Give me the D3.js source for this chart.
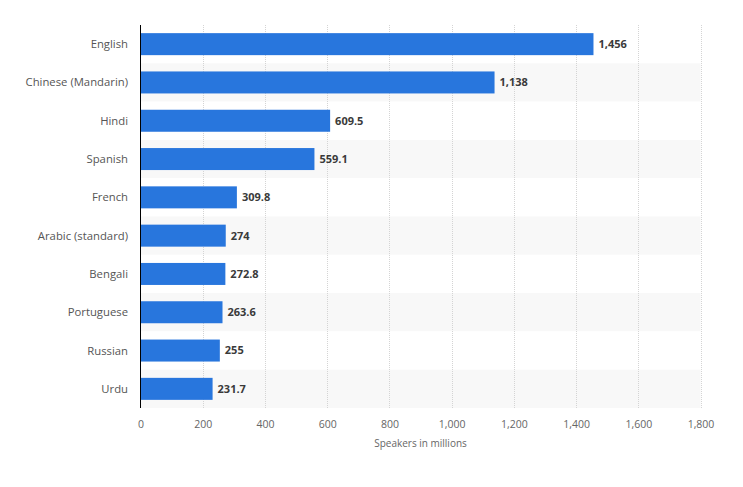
<!DOCTYPE html>
<html>
<head>
<meta charset="utf-8">
<script src="https://cdnjs.cloudflare.com/ajax/libs/d3/7.8.5/d3.min.js"></script>
<title>Speakers</title>
<style>
  body{ margin: 0; background-color: #fff; }
  text{ font-family: "Open Sans", "DejaVu Sans", sans-serif; }
</style>
</head>
<body>
<script>
var languages = ["English", "Chinese (Mandarin)", "Hindi", "Spanish", "French",
                 "Arabic (standard)", "Bengali", "Portuguese", "Russian", "Urdu"],
    speakers = [1456, 1138, 609.5, 559.1, 309.8, 274, 272.8, 263.6, 255, 231.7],
    ticks = [0, 200, 400, 600, 800, 1000, 1200, 1400, 1600, 1800];

var w = 743, h = 487,
    x0 = 140.5, x1 = 700.5, y0 = 25, y1 = 408;   // plot box

var svg = d3.select("body").append("svg")
    .attr("width", w)
    .attr("height", h);

var x = d3.scaleLinear().domain([0, 1800]).range([x0, x1]);
var y = d3.scaleBand().domain(languages).range([y0, y1]);
var fmt = d3.format(",");

// alternating row bands
svg.selectAll("rect.band")
  .data(languages)
  .enter().append("rect")
    .attr("class", "band")
    .attr("x", x0)
    .attr("y", function(d){ return y(d); })
    .attr("width", x1 - x0)
    .attr("height", y.bandwidth())
    .attr("fill", function(d, i){ return i % 2 ? "#f8f8f8" : "#fff"; });

// grid
svg.selectAll("line.grid")
  .data(ticks.slice(1))
  .enter().append("line")
    .attr("class", "grid")
    .attr("x1", function(d){ return Math.round(x(d)) + 0.5; })
    .attr("x2", function(d){ return Math.round(x(d)) + 0.5; })
    .attr("y1", y0)
    .attr("y2", y1)
    .attr("stroke", "#d4d4d4")
    .attr("stroke-dasharray", "1,1");

// bars
var bh = 22;
svg.selectAll("rect.bar")
  .data(speakers)
  .enter().append("rect")
    .attr("class", "bar")
    .attr("x", x0)
    .attr("y", function(d, i){ return y(languages[i]) + (y.bandwidth() - bh)/2; })
    .attr("width", function(d){ return x(d) - x0; })
    .attr("height", bh)
    .attr("fill", "#2876dd");

// value labels
svg.selectAll("text.val")
  .data(speakers)
  .enter().append("text")
    .attr("class", "val")
    .attr("x", function(d){ return x(d) + 5; })
    .attr("y", function(d, i){ return y(languages[i]) + y.bandwidth()/2; })
    .attr("dy", "0.35em")
    .attr("font-size", 11)
    .attr("font-weight", "bold")
    .attr("fill", "#3a3a3a")
    .text(function(d){ return fmt(d); });

// category labels
svg.selectAll("text.cat")
  .data(languages)
  .enter().append("text")
    .attr("class", "cat")
    .attr("x", 128)
    .attr("y", function(d){ return y(d) + y.bandwidth()/2; })
    .attr("dy", "0.35em")
    .attr("text-anchor", "end")
    .attr("font-size", 11.3)
    .attr("fill", "#555")
    .text(function(d){ return d; });

// x axis
var xAxis = d3.axisBottom(x).tickValues(ticks).tickFormat(fmt).tickSize(0).tickPadding(13);
var gx = svg.append("g").attr("transform", "translate(0," + y1 + ")").call(xAxis);
gx.select(".domain").remove();
gx.selectAll("text")
    .attr("font-size", 10.5)
    .attr("fill", "#666")
    .attr("font-family", "'Open Sans', 'DejaVu Sans', sans-serif");

// y axis line
svg.append("line")
    .attr("x1", x0).attr("x2", x0)
    .attr("y1", y0).attr("y2", y1)
    .attr("stroke", "#000");

svg.append("text")
    .attr("x", (x0 + x1)/2)
    .attr("y", 447)
    .attr("text-anchor", "middle")
    .attr("font-size", 10)
    .attr("fill", "#666")
    .text("Speakers in millions");
</script>
</body>
</html>
